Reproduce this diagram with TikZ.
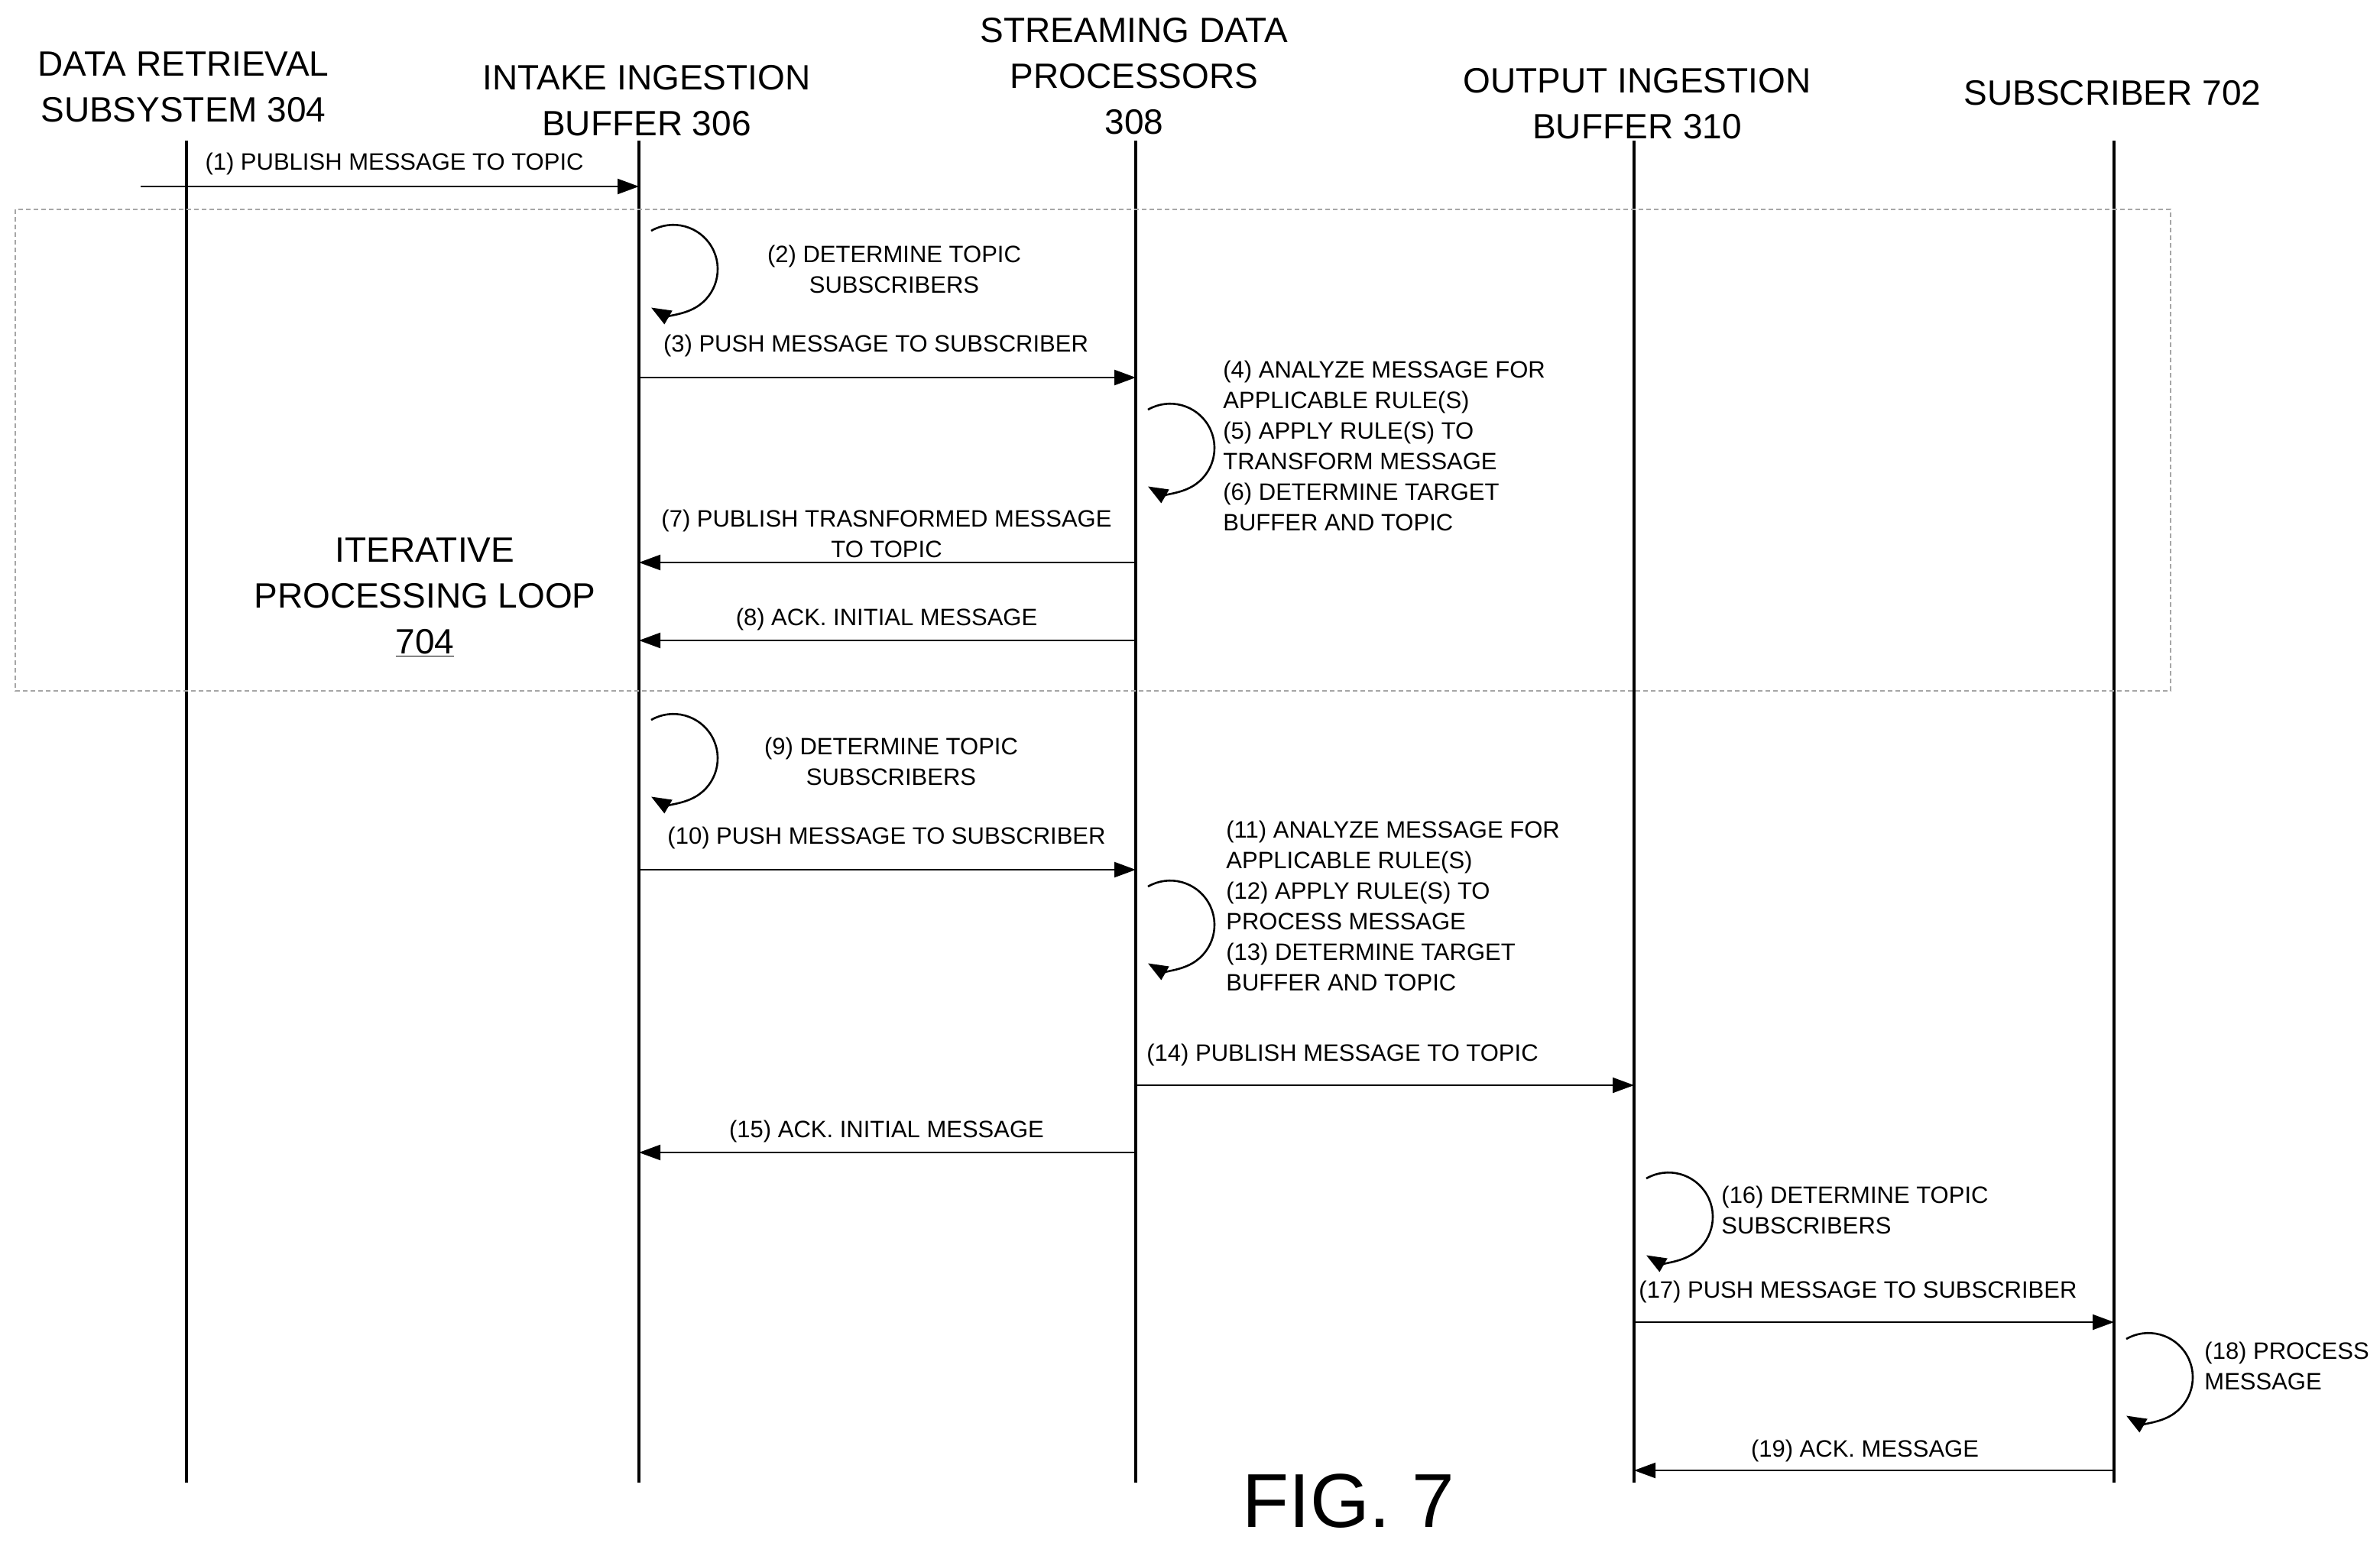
\documentclass[tikz,border=0pt]{standalone}
\usepackage{fontspec}
\setmainfont{Liberation Sans}
\usetikzlibrary{arrows.meta}
\begin{document}
\begin{tikzpicture}[x=1pt,y=-1pt,
  life/.style={line width=1.6pt},
  msg/.style={line width=1.1pt,-{Triangle[length=14pt,width=10pt]}},
  lbl/.style={font=\fontsize{15.5}{20}\selectfont,inner sep=0pt,align=center},
  lbll/.style={font=\fontsize{15.5}{20}\selectfont,inner sep=0pt,align=left,anchor=north west},
  hdr/.style={font=\fontsize{23}{30}\selectfont,inner sep=0pt,align=center}]
\useasboundingbox (0,0) rectangle (1557,1009);
\coordinate (l1) at (122,92);
\coordinate (l2) at (418,92);
\coordinate (l3) at (743,92);
\coordinate (l4) at (1069,92);
\coordinate (l5) at (1383,92);
\coordinate (src) at (92,122);
\foreach \c in {l1,l2,l3,l4,l5} \draw[life] (\c) -- (\c |- 0,970);
\node[hdr] (h1) at (120,57) {DATA RETRIEVAL\\SUBSYSTEM 304};
\node[hdr] (h2) at (423,66) {INTAKE INGESTION\\BUFFER 306};
\node[hdr] (h3) at (742,50) {STREAMING DATA\\PROCESSORS\\308};
\node[hdr] (h4) at (1071,68) {OUTPUT INGESTION\\BUFFER 310};
\node[hdr] (h5) at (1382,61) {SUBSCRIBER 702};
\draw[gray!70,dash pattern=on 3pt off 2pt,line width=0.8pt] (10,137) rectangle (1420,452);
\node[hdr] (loop) at (278,391) {ITERATIVE\\PROCESSING LOOP\\\underline{704}};
\newcommand\myloop[2]{\draw[line width=1.3pt,-{Triangle[length=13pt,width=10pt]}] ([xshift=8pt,yshift=26pt]#1 |- 0,#2) arc (240:480:29);}
\draw[msg] (src) -- (src -| l2);
\node[lbl] (t1) at (258,107) {(1) PUBLISH MESSAGE TO TOPIC};
\myloop{l2}{177}
\node[lbl] (t2) at (585,176) {(2) DETERMINE TOPIC\\SUBSCRIBERS};
\draw[msg] (l2 |- 0,247) -- (l3 |- 0,247);
\node[lbl] (t3) at (573,226) {(3) PUSH MESSAGE TO SUBSCRIBER};
\myloop{l3}{294}
\node[lbll] (t4) at (800,236) {(4) ANALYZE MESSAGE FOR\\APPLICABLE RULE(S)\\(5) APPLY RULE(S) TO\\TRANSFORM MESSAGE\\(6) DETERMINE TARGET\\BUFFER AND TOPIC};
\draw[msg] (l3 |- 0,368) -- (l2 |- 0,368);
\node[lbl] (t7) at (580,349) {(7) PUBLISH TRASNFORMED MESSAGE\\TO TOPIC};
\draw[msg] (l3 |- 0,419) -- (l2 |- 0,419);
\node[lbl] (t8) at (580,405) {(8) ACK. INITIAL MESSAGE};
\myloop{l2}{497}
\node[lbl] (t9) at (583,498) {(9) DETERMINE TOPIC\\SUBSCRIBERS};
\draw[msg] (l2 |- 0,569) -- (l3 |- 0,569);
\node[lbl] (t10) at (580,548) {(10) PUSH MESSAGE TO SUBSCRIBER};
\myloop{l3}{606}
\node[lbll] (t11) at (802,537) {(11) ANALYZE MESSAGE FOR\\APPLICABLE RULE(S)\\(12) APPLY RULE(S) TO\\PROCESS MESSAGE\\(13) DETERMINE TARGET\\BUFFER AND TOPIC};
\draw[msg] (l3 |- 0,710) -- (l4 |- 0,710);
\node[lbll,anchor=west] (t14) at (750,690) {(14) PUBLISH MESSAGE TO TOPIC};
\draw[msg] (l3 |- 0,754) -- (l2 |- 0,754);
\node[lbl] (t15) at (580,740) {(15) ACK. INITIAL MESSAGE};
\myloop{l4}{797}
\node[lbll] (t16) at (1126,776) {(16) DETERMINE TOPIC\\SUBSCRIBERS};
\draw[msg] (l4 |- 0,865) -- (l5 |- 0,865);
\node[lbll,anchor=west] (t17) at (1072,845) {(17) PUSH MESSAGE TO SUBSCRIBER};
\myloop{l5}{902}
\node[lbll] (t18) at (1442,878) {(18) PROCESS\\MESSAGE};
\draw[msg] (l5 |- 0,962) -- (l4 |- 0,962);
\node[lbl] (t19) at (1220,949) {(19) ACK. MESSAGE};
\node[font=\fontsize{50}{54}\selectfont,inner sep=0pt] (fig) at (882,982) {FIG. 7};
\end{tikzpicture}
\end{document}
